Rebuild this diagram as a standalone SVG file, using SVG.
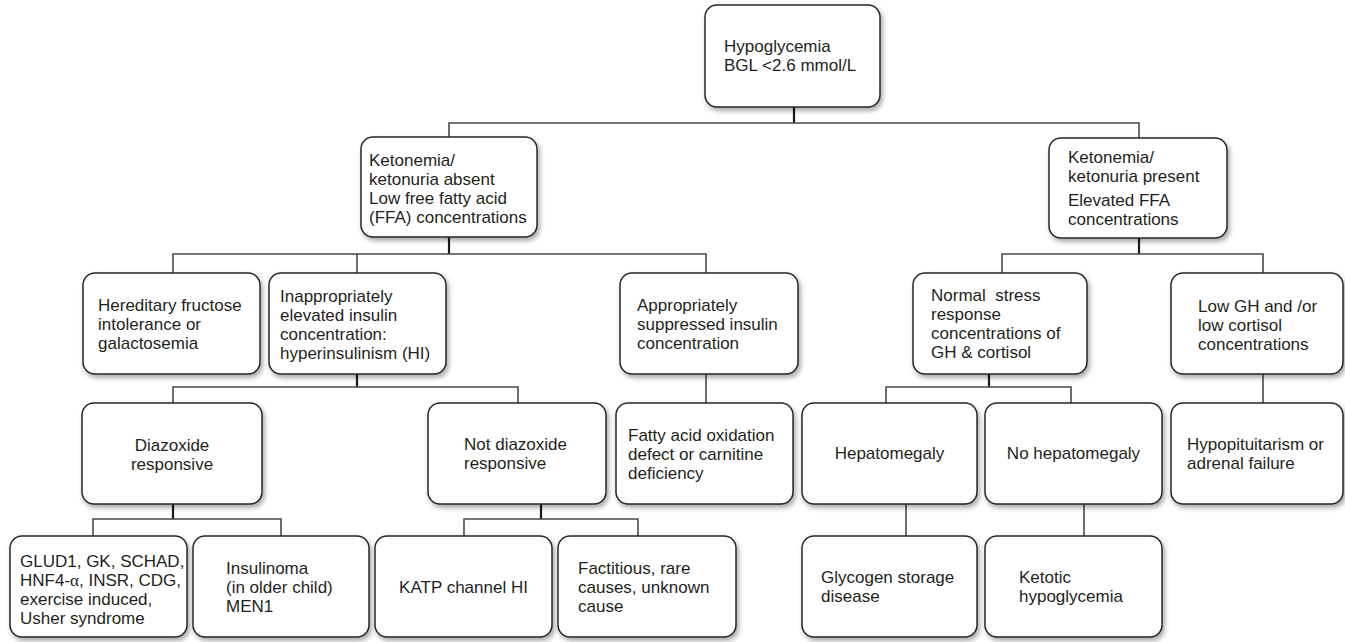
<svg xmlns="http://www.w3.org/2000/svg" width="1345" height="642" viewBox="0 0 1345 642">
  <defs>
    <filter id="shadow" x="-10%" y="-10%" width="125%" height="130%">
      <feDropShadow dx="2" dy="3" stdDeviation="2.5" flood-color="#000" flood-opacity="0.35"/>
    </filter>
    <style>
      .box { fill: #fff; stroke: #262626; stroke-width: 1.5; filter: url(#shadow); }
      .t { font-family: "Liberation Sans", Arial, sans-serif; font-size: 17px; fill: #231f20; }
      .c { text-anchor: middle; }
      .link { fill: none; stroke: #4a4a4a; stroke-width: 1.6; }
      .stem { fill: none; stroke: #1a1a1a; stroke-width: 2.2; }
      .greek { font-family: "Liberation Serif", "DejaVu Serif", serif; }
    </style>
  </defs>
  <rect width="1345" height="642" fill="#fff"/>

  <!-- connectors -->
  <g id="connectors">
    <path class="stem" d="M794 107 V123"/>
    <path class="link" d="M449 137 V123 H1139 V138"/>

    <path class="stem" d="M449 237 V254"/>
    <path class="link" d="M173 273 V254 H706 V273 M357 254 V273"/>

    <path class="stem" d="M357 374 V387"/>
    <path class="link" d="M173 403 V387 H518 V403"/>

    <path class="link" d="M706 374 V403"/>

    <path class="stem" d="M173 504 V519"/>
    <path class="link" d="M93 536 V519 H281 V536"/>

    <path class="stem" d="M541 504 V519"/>
    <path class="link" d="M464 536 V519 H638 V536"/>

    <path class="stem" d="M1139 238 V254"/>
    <path class="link" d="M1002 273 V254 H1263 V273"/>

    <path class="stem" d="M989 374 V387"/>
    <path class="link" d="M886 403 V387 H1071 V403"/>

    <path class="link" d="M1263 374 V403"/>
    <path class="link" d="M906 504 V536"/>
    <path class="link" d="M1084 504 V536"/>
  </g>

  <!-- level 1 -->
  <g id="hypoglycemia">
    <rect class="box" x="705" y="5" width="175" height="102" rx="12"/>
    <text class="t" x="724" y="52">Hypoglycemia</text>
    <text class="t" x="724" y="71">BGL &lt;2.6 mmol/L</text>
  </g>

  <!-- level 2 -->
  <g id="ketones-absent">
    <rect class="box" x="361" y="137" width="176" height="100" rx="12"/>
    <text class="t" x="369" y="165.5">Ketonemia/</text>
    <text class="t" x="369" y="184.5">ketonuria absent</text>
    <text class="t" x="369" y="203.5">Low free fatty acid</text>
    <text class="t" x="369" y="222.5">(FFA) concentrations</text>
  </g>
  <g id="ketones-present">
    <rect class="box" x="1049" y="138" width="178" height="100" rx="12"/>
    <text class="t" x="1068" y="163">Ketonemia/</text>
    <text class="t" x="1068" y="182">ketonuria present</text>
    <text class="t" x="1068" y="206">Elevated FFA</text>
    <text class="t" x="1068" y="225">concentrations</text>
  </g>

  <!-- level 3 -->
  <g id="hereditary">
    <rect class="box" x="83" y="273" width="177" height="101" rx="12"/>
    <text class="t" x="98" y="311">Hereditary fructose</text>
    <text class="t" x="98" y="330">intolerance or</text>
    <text class="t" x="98" y="349">galactosemia</text>
  </g>
  <g id="hyperinsulinism">
    <rect class="box" x="269" y="273" width="177" height="101" rx="12"/>
    <text class="t" x="280" y="301.5">Inappropriately</text>
    <text class="t" x="280" y="320.5">elevated insulin</text>
    <text class="t" x="280" y="339.5">concentration:</text>
    <text class="t" x="280" y="358.5">hyperinsulinism (HI)</text>
  </g>
  <g id="suppressed-insulin">
    <rect class="box" x="620" y="273" width="178" height="101" rx="12"/>
    <text class="t" x="637" y="311">Appropriately</text>
    <text class="t" x="637" y="330">suppressed insulin</text>
    <text class="t" x="637" y="349">concentration</text>
  </g>
  <g id="normal-stress">
    <rect class="box" x="913" y="273" width="174" height="101" rx="12"/>
    <text class="t" x="931" y="300.5" style="white-space:pre">Normal  stress</text>
    <text class="t" x="931" y="319.5">response</text>
    <text class="t" x="931" y="338.5">concentrations of</text>
    <text class="t" x="931" y="357.5">GH &amp; cortisol</text>
  </g>
  <g id="low-gh">
    <rect class="box" x="1171" y="273" width="172" height="101" rx="12"/>
    <text class="t" x="1198" y="312">Low GH and /or</text>
    <text class="t" x="1198" y="331">low cortisol</text>
    <text class="t" x="1198" y="350">concentrations</text>
  </g>

  <!-- level 4 -->
  <g id="diazoxide-responsive">
    <rect class="box" x="82" y="403" width="180" height="101" rx="12"/>
    <text class="t c" x="172" y="450.5">Diazoxide</text>
    <text class="t c" x="172" y="469.5">responsive</text>
  </g>
  <g id="not-diazoxide-responsive">
    <rect class="box" x="428" y="403" width="178" height="101" rx="12"/>
    <text class="t" x="464" y="450">Not diazoxide</text>
    <text class="t" x="464" y="469">responsive</text>
  </g>
  <g id="fatty-acid">
    <rect class="box" x="616" y="403" width="177" height="101" rx="12"/>
    <text class="t" x="628" y="441">Fatty acid oxidation</text>
    <text class="t" x="628" y="460">defect or carnitine</text>
    <text class="t" x="628" y="479">deficiency</text>
  </g>
  <g id="hepatomegaly">
    <rect class="box" x="802" y="403" width="175" height="101" rx="12"/>
    <text class="t c" x="889.5" y="459">Hepatomegaly</text>
  </g>
  <g id="no-hepatomegaly">
    <rect class="box" x="985" y="403" width="177" height="101" rx="12"/>
    <text class="t c" x="1073.5" y="459">No hepatomegaly</text>
  </g>
  <g id="hypopituitarism">
    <rect class="box" x="1171" y="403" width="172" height="101" rx="12"/>
    <text class="t" x="1187" y="450">Hypopituitarism or</text>
    <text class="t" x="1187" y="469">adrenal failure</text>
  </g>

  <!-- level 5 -->
  <g id="genetic-causes">
    <rect class="box" x="10" y="536" width="177" height="101" rx="12"/>
    <text class="t" x="20" y="567">GLUD1, GK, SCHAD,</text>
    <text class="t" x="20" y="586">HNF4-<tspan class="greek">α</tspan>, INSR, CDG,</text>
    <text class="t" x="20" y="605">exercise induced,</text>
    <text class="t" x="20" y="624">Usher syndrome</text>
  </g>
  <g id="insulinoma">
    <rect class="box" x="193" y="536" width="176" height="101" rx="12"/>
    <text class="t" x="226" y="573.5">Insulinoma</text>
    <text class="t" x="226" y="592.5">(in older child)</text>
    <text class="t" x="226" y="611.5">MEN1</text>
  </g>
  <g id="katp">
    <rect class="box" x="375" y="536" width="177" height="101" rx="12"/>
    <text class="t c" x="463.5" y="593">KATP channel HI</text>
  </g>
  <g id="factitious">
    <rect class="box" x="558" y="536" width="178" height="101" rx="12"/>
    <text class="t" x="578" y="573.5">Factitious, rare</text>
    <text class="t" x="578" y="592.5">causes, unknown</text>
    <text class="t" x="578" y="611.5">cause</text>
  </g>
  <g id="glycogen-storage">
    <rect class="box" x="802" y="536" width="175" height="101" rx="12"/>
    <text class="t" x="821" y="583">Glycogen storage</text>
    <text class="t" x="821" y="602">disease</text>
  </g>
  <g id="ketotic">
    <rect class="box" x="985" y="536" width="177" height="101" rx="12"/>
    <text class="t" x="1019" y="583">Ketotic</text>
    <text class="t" x="1019" y="602">hypoglycemia</text>
  </g>
</svg>
